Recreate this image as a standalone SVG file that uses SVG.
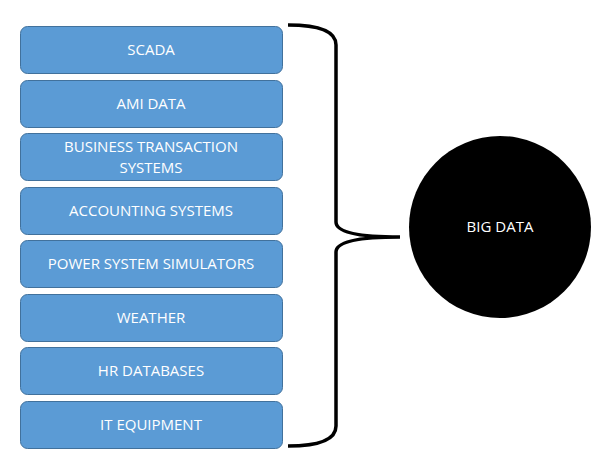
<svg xmlns="http://www.w3.org/2000/svg" width="600" height="472" viewBox="0 0 600 472">
<style>
.b{fill:#5b9bd5;stroke:#41719c;stroke-width:1}
.t{font-family:"Open Sans","Liberation Sans",sans-serif;font-size:15px;fill:#fff;text-anchor:middle}
</style>
<rect width="600" height="472" fill="#fff"/>
<g id="n1"><rect class="b" x="20.5" y="26.5" width="262" height="47" rx="7"/><text class="t" x="151" y="55">SCADA</text></g>
<g id="n2"><rect class="b" x="20.5" y="80.5" width="262" height="47" rx="7"/><text class="t" x="151" y="109">AMI DATA</text></g>
<g id="n3"><rect class="b" x="20.5" y="133.5" width="262" height="47" rx="7"/><text class="t" x="151" y="152">BUSINESS TRANSACTION</text><text class="t" x="151" y="173">SYSTEMS</text></g>
<g id="n4"><rect class="b" x="20.5" y="187.5" width="262" height="47" rx="7"/><text class="t" x="151" y="216">ACCOUNTING SYSTEMS</text></g>
<g id="n5"><rect class="b" x="20.5" y="240.5" width="262" height="47" rx="7"/><text class="t" x="151" y="269">POWER SYSTEM SIMULATORS</text></g>
<g id="n6"><rect class="b" x="20.5" y="294.5" width="262" height="47" rx="7"/><text class="t" x="151" y="323">WEATHER</text></g>
<g id="n7"><rect class="b" x="20.5" y="347.5" width="262" height="47" rx="7"/><text class="t" x="151" y="376">HR DATABASES</text></g>
<g id="n8"><rect class="b" x="20.5" y="401.5" width="262" height="47" rx="7"/><text class="t" x="151" y="430">IT EQUIPMENT</text></g>
<g id="connectors"><path d="M288 25 Q336 25 336 45 L336 222 Q336 237 400 237 Q336 237 336 252 L336 426 Q336 446 288 446" fill="none" stroke="#000" stroke-width="3.5"/></g>
<g id="big"><ellipse cx="500" cy="227" rx="91" ry="91" fill="#000"/><text class="t" x="500" y="232">BIG DATA</text></g>
</svg>
